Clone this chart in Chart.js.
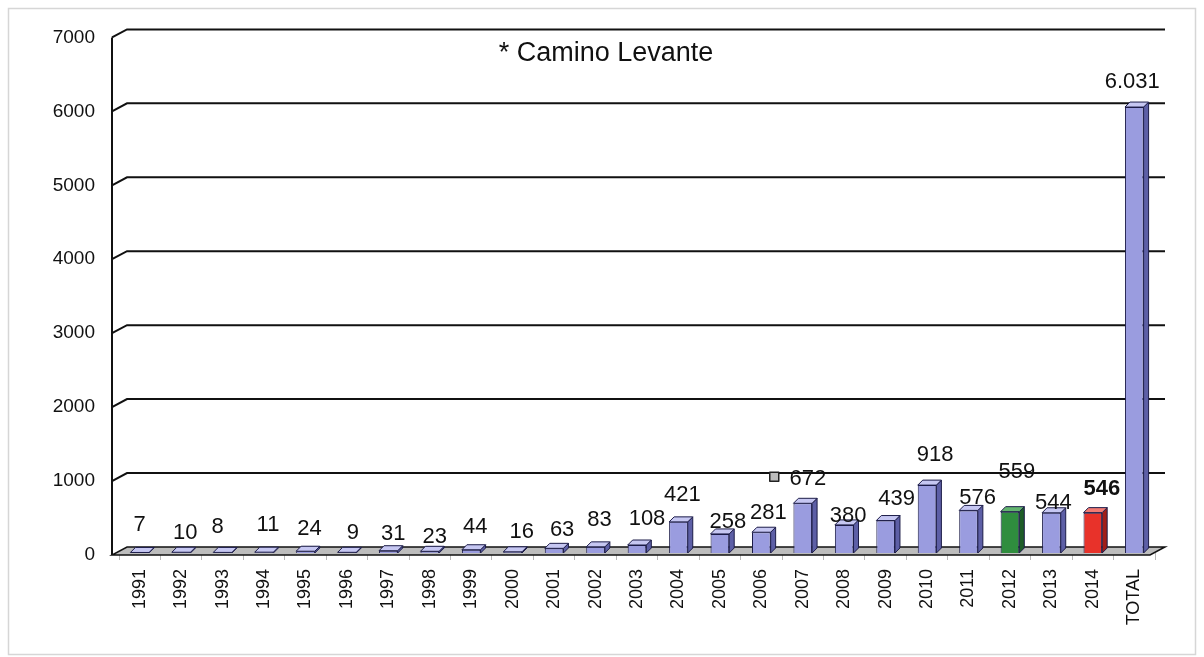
<!DOCTYPE html>
<html>
<head>
<meta charset="utf-8">
<title>Camino Levante</title>
<script src="https://cdn.jsdelivr.net/npm/chart.js@4.4.1/dist/chart.umd.min.js"></script>
<style>
  html, body { margin: 0; padding: 0; background: #fff; }
  canvas { display: block; }
</style>
</head>
<body>
<canvas id="chart" width="1204" height="657"></canvas>
<script>
// data
const years = ['1991', '1992', '1993', '1994', '1995', '1996', '1997', '1998', '1999', '2000',
               '2001', '2002', '2003', '2004', '2005', '2006', '2007', '2008', '2009', '2010',
               '2011', '2012', '2013', '2014', 'TOTAL'];
const pilgrims = [7, 10, 8, 11, 24, 9, 31, 23, 44, 16,
                  63, 83, 108, 421, 258, 281, 672, 380, 439, 918,
                  576, 559, 544, 546, 6031];
const valueLabels = ['7', '10', '8', '11', '24', '9', '31', '23', '44', '16',
                     '63', '83', '108', '421', '258', '281', '672', '380', '439', '918',
                     '576', '559', '544', '546', '6.031'];
const yTicks = [0, 1000, 2000, 3000, 4000, 5000, 6000, 7000];
const chartTitle = '* Camino Levante';
const boldLabel = '2014';
const markerNextTo = '2007';

// where the value labels sit, relative to the top of each bar (px)
const labelDx = [0, 4, -5, 4, 4, 6, 5, 5, 4, 9, 8, 4, 10, 4, 8, 7, 5, 4, 11, 8, 9, 7, 2, 9, -2];
const labelDy = [-28, -19, -25, -27, -22, -19, -17, -14, -23, -20, -18, -27, -26, -27, -12, -19, -24, -9, -22, -30, -12, -40, -10, -24, -25];

// colours: front, side, top
const blue = ['#9a9cdf', '#5d5fa6', '#c6c7f2'];
const green = ['#2f8d3e', '#1d5c27', '#63b56f'];
const red = ['#e8322a', '#a11d18', '#f27a72'];
const faceColors = years.map(y => y === '2012' ? green : (y === '2014' ? red : blue));

const FONT = '"Liberation Sans", Arial, sans-serif';
const BAR_DX = 5, BAR_DY = -5;

const pseudo3d = {
    id: 'pseudo3d',
    beforeDraw(chart) {
        const ctx = chart.ctx;
        ctx.save();
        ctx.strokeStyle = '#d6d6d6';
        ctx.lineWidth = 1.5;
        ctx.strokeRect(8.5, 8.5, 1187, 646);
        ctx.restore();
    },
    beforeDatasetsDraw(chart) {
        const ctx = chart.ctx;
        const ca = chart.chartArea;
        const ys = chart.scales.y;
        const L = ca.left, R = ca.right, B = ys.getPixelForValue(0);
        ctx.save();

        // back wall gridlines with the little diagonal at the axis
        ctx.strokeStyle = '#111';
        ctx.lineWidth = 2;
        yTicks.filter(v => v > 0).forEach(v => {
            const py = ys.getPixelForValue(v);
            ctx.beginPath();
            ctx.moveTo(L - 7, py + 2);
            ctx.lineTo(L + 8, py - 6);
            ctx.lineTo(R + 10, py - 6);
            ctx.stroke();
        });

        // floor
        ctx.beginPath();
        ctx.moveTo(L - 7, B + 2);
        ctx.lineTo(R - 5, B + 2);
        ctx.lineTo(R + 10, B - 6);
        ctx.lineTo(L + 8, B - 6);
        ctx.closePath();
        ctx.fillStyle = '#bdbdbd';
        ctx.fill();
        ctx.lineWidth = 1.5;
        ctx.stroke();

        // value axis
        ctx.lineWidth = 2;
        ctx.beginPath();
        ctx.moveTo(L - 7, ys.getPixelForValue(7000) + 2);
        ctx.lineTo(L - 7, B + 2);
        ctx.stroke();
        ctx.restore();
    },
    afterDatasetsDraw(chart) {
        const ctx = chart.ctx;
        const meta = chart.getDatasetMeta(0);
        ctx.save();
        ctx.strokeStyle = '#1c1c48';
        ctx.lineWidth = 1;
        ctx.lineJoin = 'round';

        meta.data.forEach((bar, i) => {
            const p = bar.getProps(['x', 'y', 'base', 'width'], true);
            const x1 = p.x - p.width / 2, x2 = p.x + p.width / 2;
            const c = faceColors[i];
            // side face
            ctx.beginPath();
            ctx.moveTo(x2, p.y);
            ctx.lineTo(x2 + BAR_DX, p.y + BAR_DY);
            ctx.lineTo(x2 + BAR_DX, p.base + BAR_DY);
            ctx.lineTo(x2, p.base);
            ctx.closePath();
            ctx.fillStyle = c[1];
            ctx.fill();
            ctx.stroke();
            // top face
            ctx.beginPath();
            ctx.moveTo(x1, p.y);
            ctx.lineTo(x2, p.y);
            ctx.lineTo(x2 + BAR_DX, p.y + BAR_DY);
            ctx.lineTo(x1 + BAR_DX, p.y + BAR_DY);
            ctx.closePath();
            ctx.fillStyle = c[2];
            ctx.fill();
            ctx.stroke();
        });

        // value labels
        ctx.fillStyle = '#111';
        ctx.textAlign = 'center';
        ctx.textBaseline = 'middle';
        meta.data.forEach((bar, i) => {
            const bold = years[i] === boldLabel ? 'bold ' : '';
            ctx.font = bold + '22px ' + FONT;
            const lx = bar.x + labelDx[i], ly = bar.y + labelDy[i];
            ctx.fillText(valueLabels[i], lx, ly);
            if (years[i] === markerNextTo) {
                // stray legend key left by the original chart
                ctx.fillStyle = '#bdbdbd';
                ctx.fillRect(lx - 38, ly - 7, 9, 9);
                ctx.strokeStyle = '#222';
                ctx.lineWidth = 1.5;
                ctx.strokeRect(lx - 38, ly - 7, 9, 9);
                ctx.fillStyle = '#111';
            }
        });

        // title
        ctx.font = '27px ' + FONT;
        ctx.fillText(chartTitle, 606, 54);
        ctx.restore();
    }
};

const ctx = document.getElementById('chart');
new Chart(ctx, {
    type: 'bar',
    data: {
        labels: years,
        datasets: [{
            data: pilgrims,
            backgroundColor: faceColors.map(c => c[0]),
            borderColor: '#1c1c48',
            borderWidth: 1,
            barPercentage: 0.45,
            categoryPercentage: 1
        }]
    },
    options: {
        responsive: false,
        animation: false,
        layout: { padding: { top: 35, right: 49, bottom: 0, left: 0 } },
        plugins: {
            legend: { display: false },
            tooltip: { enabled: false }
        },
        scales: {
            x: {
                afterFit: s => { s.height = 104; },
                border: { display: false },
                grid: {
                    display: true,
                    drawOnChartArea: false,
                    offset: true,
                    tickLength: 7,
                    color: '#b8b8b8'
                },
                ticks: {
                    minRotation: 90,
                    maxRotation: 90,
                    autoSkip: false,
                    padding: 9,
                    color: '#111',
                    font: { family: FONT, size: 18 }
                }
            },
            y: {
                min: 0,
                max: 7000,
                afterFit: s => { s.width = 119; },
                afterBuildTicks: s => { s.ticks = yTicks.map(v => ({ value: v })); },
                border: { display: false },
                grid: { display: false, drawTicks: false },
                ticks: {
                    padding: 24,
                    labelOffset: 2,
                    color: '#111',
                    font: { family: FONT, size: 19 },
                    callback: v => String(v)
                }
            }
        }
    },
    plugins: [pseudo3d]
});
</script>
</body>
</html>
